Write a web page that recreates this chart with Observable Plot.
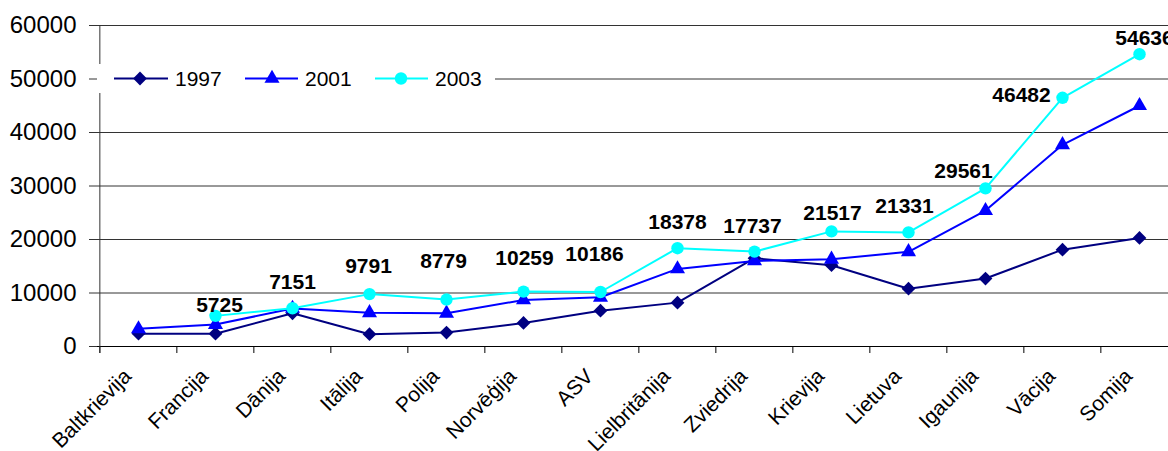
<!DOCTYPE html>
<html><head><meta charset="utf-8">
<script src="https://cdn.jsdelivr.net/npm/d3@7"></script>
<script src="https://cdn.jsdelivr.net/npm/@observablehq/plot@0.6"></script>
<style>
html,body{margin:0;padding:0;background:#fff;overflow:hidden;width:1168px;height:451px}
#wrap{position:relative;width:1180px;height:451px}
#legend{position:absolute;left:97px;top:64px}
</style></head><body><div id="wrap"></div>
<script>
const countries = ["Baltkrievija","Francija","Dānija","Itālija","Polija","Norvēģija","ASV","Lielbritānija","Zviedrija","Krievija","Lietuva","Igaunija","Vācija","Somija"];
const years = ["1997","2001","2003"];
const v1997 = [2400,2400,6200,2300,2600,4400,6700,8200,16500,15200,10800,12700,18100,20300];
const v2001 = [3300,4100,7100,6300,6200,8700,9200,14500,16000,16300,17700,25400,37700,45000];
const v2003 = [null,5725,7151,9791,8779,10259,10186,18378,17737,21517,21331,29561,46482,54636];
const yTicks = [0,10000,20000,30000,40000,50000,60000];

// styling / layout (not data)
const FONT = "'Liberation Sans', Arial, sans-serif";
const W=1180, H=451, ML=97, MR=1, MT=25, MB=105;
const step=(W-ML-MR)/countries.length;
const colors = {"1997":"#000080","2001":"#0000ff","2003":"#00ffff"};
const symbols = {"1997":"diamond2","2001":"triangle","2003":"circle"};
const d3symbols = {"1997":d3.symbolDiamond2,"2001":d3.symbolTriangle,"2003":d3.symbolCircle};
const radius = {"1997":6.2,"2001":5.6,"2003":6.2};
const labelOffset = {"Francija":[4,-11],"Dānija":[0,-26],"Itālija":[-1,-28],"Polija":[-3,-38],"Norvēģija":[1,-33],"ASV":[-6,-38],"Lielbritānija":[0,-26],"Zviedrija":[-2,-25],"Krievija":[1,-18],"Lietuva":[-4,-26],"Igaunija":[-22,-17],"Vācija":[-41,-3],"Somija":[5,-16]};

const series = {"1997":v1997,"2001":v2001,"2003":v2003};
const rows = [];
years.forEach(yr=>countries.forEach((c,i)=>rows.push({country:c,year:yr,value:series[yr][i]})));

const labelMarks = countries.map((c,i)=>{
  const v=v2003[i]; if(v==null) return null;
  const [dx,dy]=labelOffset[c]||[0,-25];
  return Plot.text([{country:c,value:v}],{x:"country",y:"value",text:d=>String(d.value),dx,dy,fontSize:21,fontWeight:"bold",fill:"#000",lineAnchor:"middle"});
}).filter(Boolean);

const chart = Plot.plot({
  width:W,height:H,marginLeft:ML,marginRight:MR,marginTop:MT,marginBottom:MB,
  style:{fontFamily:FONT,background:"white",overflow:"visible",color:"#000"},
  x:{type:"point",domain:countries,padding:0.5,axis:null},
  y:{domain:[0,60000]},
  marks:[
    Plot.gridY(yTicks,{stroke:"#333",strokeOpacity:1}),
    Plot.axisY(yTicks,{tickSize:8,tickPadding:13,fontSize:24,tickFormat:d=>String(d),label:null,stroke:"#333"}),
    Plot.ruleY([0],{stroke:"#000"}),
    Plot.ruleX(countries,{x:d=>d,dx:-step/2,insetTop:H-MT-MB,insetBottom:-7,stroke:"#000"}),
    Plot.ruleX([countries[0]],{x:d=>d,dx:-step/2,insetBottom:-7,stroke:"#333"}),
    ...years.flatMap(yr=>[
      Plot.line(rows.filter(r=>r.year===yr),{x:"country",y:"value",stroke:colors[yr],strokeWidth:2}),
      Plot.dot(rows.filter(r=>r.year===yr&&r.value!=null),{x:"country",y:"value",symbol:symbols[yr],r:radius[yr],fill:colors[yr],stroke:"none"})
    ]),
    ...labelMarks,
    Plot.text(countries,{x:d=>d,frameAnchor:"bottom",rotate:-45,textAnchor:"end",lineAnchor:"bottom",dx:-6,dy:31,fontSize:21,fill:"#000"})
  ]
});
const wrap=document.getElementById("wrap");
wrap.appendChild(chart);

// legend overlay
const leg = d3.create("svg").attr("id","legend").attr("width",398).attr("height",29)
  .style("font-family",FONT);
leg.append("rect").attr("width",398).attr("height",29).attr("fill","white");
const lx = [[17,71,43,78],[148,201,175,208],[278,331,304,338]];
years.forEach((yr,k)=>{
  const [x1,x2,sx,tx]=lx[k];
  const g=leg.append("g");
  g.append("line").attr("x1",x1).attr("x2",x2).attr("y1",14.5).attr("y2",14.5).attr("stroke",colors[yr]).attr("stroke-width",2);
  g.append("path").attr("d",d3.symbol(d3symbols[yr],Math.PI*radius[yr]*radius[yr])()).attr("transform",`translate(${sx},14.5)`).attr("fill",colors[yr]);
  g.append("text").attr("x",tx).attr("y",14.5).attr("dy","0.35em").attr("font-size",21).attr("fill","#000").text(yr);
});
wrap.appendChild(leg.node());
</script></body></html>
